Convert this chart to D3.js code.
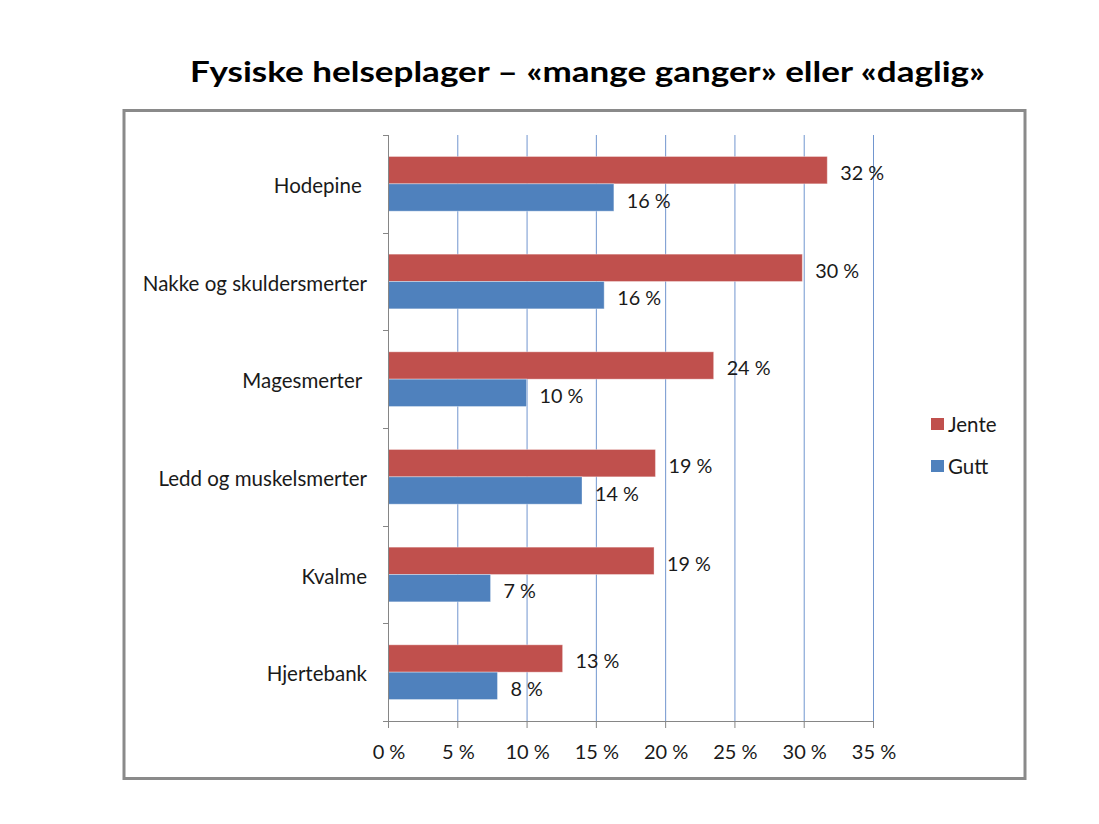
<!DOCTYPE html>
<html>
<head>
  <meta charset="UTF-8">
  <style>
    body { margin: 0; background: #fff; }
    text { font-family: Lato, "Noto Sans", sans-serif; fill: #1a1a1a; }
    .cat { white-space: pre; }
  </style>
</head>
<body>
<svg></svg>
<script src="https://d3js.org/d3.v7.min.js"></script>
<script>
// data
var categories = ["Hodepine ", "Nakke og skuldersmerter", "Magesmerter ", "Ledd og muskelsmerter", "Kvalme", "Hjertebank"];
var seriesNames = ["Jente", "Gutt"];
var jente = [31.7, 29.9, 23.5, 19.3, 19.2, 12.6];
var gutt = [16.3, 15.6, 10.0, 14.0, 7.4, 7.9];
var xTicks = [0, 5, 10, 15, 20, 25, 30, 35];
var colors = ["#C0504D", "#4F81BD"];

let width = 1099, height = 824;
let svg = d3.select("svg").attr("width", width).attr("height", height);

// outer frame
svg.append("rect")
  .attr("x", 124).attr("y", 110.5)
  .attr("width", 901).attr("height", 668)
  .attr("fill", "none").attr("stroke", "#8a8a8a").attr("stroke-width", 3);

// title
svg.append("text")
  .attr("x", 190).attr("y", 82)
  .attr("textLength", 795).attr("lengthAdjust", "spacingAndGlyphs")
  .style("font-size", "29px").style("font-weight", "bold").style("fill", "#000")
  .text("Fysiske helseplager \u2013 \u00abmange ganger\u00bb eller \u00abdaglig\u00bb");

var x = d3.scaleLinear().domain([0, 35]).range([388, 873]);
var y = d3.scaleBand().domain(categories).range([135, 721]).paddingInner(0.44).paddingOuter(0.22);
var ySub = d3.scaleBand().domain(seriesNames).range([0, y.bandwidth()]);

// gridlines
svg.append("g").selectAll("line")
  .data(xTicks.slice(1))
  .enter().append("line")
  .attr("x1", d => x(d) + 0.5).attr("x2", d => x(d) + 0.5)
  .attr("y1", 135).attr("y2", 721)
  .attr("stroke", "#7196cf").attr("stroke-width", 1);

// bars
var rows = categories.map((c, i) => ({cat: c, vals: [jente[i], gutt[i]]}));
var groups = svg.append("g").selectAll("g")
  .data(rows).enter().append("g")
  .attr("transform", d => "translate(0," + y(d.cat) + ")");

groups.selectAll("rect")
  .data(d => d.vals.map((v, k) => ({name: seriesNames[k], v: v, k: k})))
  .enter().append("rect")
  .attr("x", x(0))
  .attr("y", d => ySub(d.name))
  .attr("width", d => x(d.v) - x(0))
  .attr("height", ySub.bandwidth())
  .attr("fill", d => colors[d.k])
  .attr("stroke", "#ffffff").attr("stroke-opacity", 0.35).attr("stroke-width", 1);

groups.selectAll("text")
  .data(d => d.vals.map((v, k) => ({name: seriesNames[k], v: v})))
  .enter().append("text")
  .attr("x", d => x(d.v) + 13)
  .attr("y", d => ySub(d.name) + ySub.bandwidth() / 2 + 2)
  .attr("dominant-baseline", "central")
  .style("font-size", "19.8px")
  .text(d => Math.round(d.v) + " %");

// y axis
var yAxis = svg.append("g");
yAxis.append("line")
  .attr("x1", 388.5).attr("x2", 388.5).attr("y1", 135).attr("y2", 721)
  .attr("stroke", "#868686");
var bounds = categories.map(c => y(c) - y.step() * y.paddingInner() / 2);
bounds[0] = 135;
bounds.push(721);
yAxis.selectAll(".tk").data(bounds).enter().append("line")
  .attr("x1", 383).attr("x2", 388.5)
  .attr("y1", d => Math.round(d) + 0.5).attr("y2", d => Math.round(d) + 0.5)
  .attr("stroke", "#868686");
yAxis.selectAll(".cat").data(categories).enter().append("text")
  .attr("class", "cat")
  .attr("x", 367)
  .attr("y", d => y(d) + y.bandwidth() / 2 + 1)
  .attr("text-anchor", "end")
  .attr("dominant-baseline", "central")
  .style("font-size", "20.5px")
  .text(d => d);

// x axis
var xAxis = svg.append("g");
xAxis.append("line")
  .attr("x1", 383).attr("x2", 873.5).attr("y1", 721.5).attr("y2", 721.5)
  .attr("stroke", "#868686");
xAxis.selectAll(".tk").data(xTicks).enter().append("line")
  .attr("x1", d => x(d) + 0.5).attr("x2", d => x(d) + 0.5)
  .attr("y1", 721).attr("y2", 728)
  .attr("stroke", "#868686");
xAxis.selectAll(".lb").data(xTicks).enter().append("text")
  .attr("x", d => x(d) + 1)
  .attr("y", 751)
  .attr("text-anchor", "middle")
  .attr("dominant-baseline", "central")
  .style("font-size", "20px")
  .text(d => d + " %");

// legend
var legend = svg.selectAll(".legend")
  .data(seriesNames).enter().append("g")
  .attr("class", "legend")
  .attr("transform", (d, i) => "translate(931," + (418 + i * 42) + ")");
legend.append("rect")
  .attr("width", 13).attr("height", 12)
  .attr("fill", (d, i) => colors[i]);
legend.append("text")
  .attr("x", 17).attr("y", 6)
  .attr("dominant-baseline", "central")
  .style("font-size", "20.5px")
  .text(d => d);
</script>
</body>
</html>
